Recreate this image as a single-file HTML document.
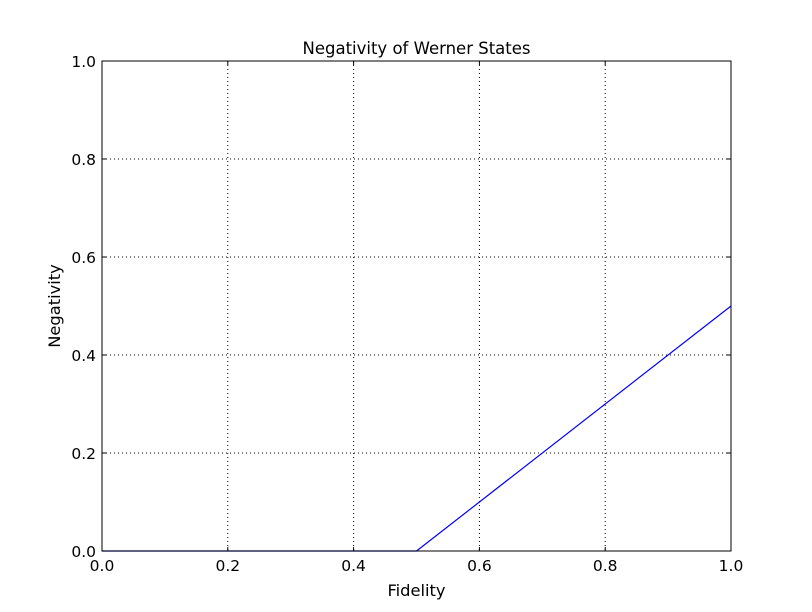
<!DOCTYPE html>
<html><head><meta charset="utf-8"><style>
body{margin:0;background:#fff;}
svg{display:block;font-family:"DejaVu Sans","Liberation Sans",sans-serif;}
</style></head><body>
<svg id="chart" width="812" height="612">
<rect x="0" y="0" width="812" height="612" fill="#fff"/>
<g id="grid"></g>
<g id="ticks"></g>
<g id="series"></g>
<rect x="102" y="61" width="629" height="490" fill="none" stroke="#000" stroke-width="1"/>
<text x="416.5" y="54" text-anchor="middle" font-size="16.5">Negativity of Werner States</text>
<text x="416.5" y="596" text-anchor="middle" font-size="16.3">Fidelity</text>
<text x="60" y="306" text-anchor="middle" font-size="16.3" transform="rotate(-90 60 306)">Negativity</text>
</svg>
<script>
const xTicks=[0,0.2,0.4,0.6,0.8,1.0];
const yTicks=[0,0.2,0.4,0.6,0.8,1.0];
const xTickLabels=["0.0","0.2","0.4","0.6","0.8","1.0"];
const yTickLabels=["0.0","0.2","0.4","0.6","0.8","1.0"];
const fidelity=[0,0.5,1.0];
const negativity=[0,0,0.5];
const L=102,R=731,T=61,B=551;
const sx=v=>L+(R-L)*v, sy=v=>B-(B-T)*v;
const NS="http://www.w3.org/2000/svg";
function mk(tag,attrs,parent){const e=document.createElementNS(NS,tag);for(const k in attrs)e.setAttribute(k,attrs[k]);parent.appendChild(e);return e;}
const grid=document.getElementById('grid'),ticks=document.getElementById('ticks'),series=document.getElementById('series');
xTicks.forEach((v,i)=>{const x=sx(v);
 let g=mk('line',{x1:x,x2:x,y1:T,y2:B,stroke:'#000','stroke-width':1,'stroke-dasharray':'1,3'},grid);
 
 
 let t=mk('line',{x1:x,x2:x,y1:B,y2:B-4,stroke:'#000'},ticks);
 
 
 let t2=mk('line',{x1:x,x2:x,y1:T,y2:T+4,stroke:'#000'},ticks);
 
 
 let l=mk('text',{x:x,y:B+20,'text-anchor':'middle','font-size':15.5},ticks);l.textContent=xTickLabels[i];
 
 
});
yTicks.forEach((v,i)=>{const y=sy(v);
 let g=mk('line',{x1:L,x2:R,y1:y,y2:y,stroke:'#000','stroke-width':1,'stroke-dasharray':'1,3'},grid);
 
 
 let t=mk('line',{x1:L,x2:L+4,y1:y,y2:y,stroke:'#000'},ticks);
 
 
 let t2=mk('line',{x1:R,x2:R-4,y1:y,y2:y,stroke:'#000'},ticks);
 
 
 let l=mk('text',{x:L-6,y:y+6,'text-anchor':'end','font-size':15.5},ticks);l.textContent=yTickLabels[i];
 
 
});
const pts=fidelity.map((f,i)=>sx(f)+','+sy(negativity[i])).join(' ');
const line=mk('polyline',{points:pts,fill:'none',stroke:'#0000ff','stroke-width':1.2},series);


</script>
</body></html>
